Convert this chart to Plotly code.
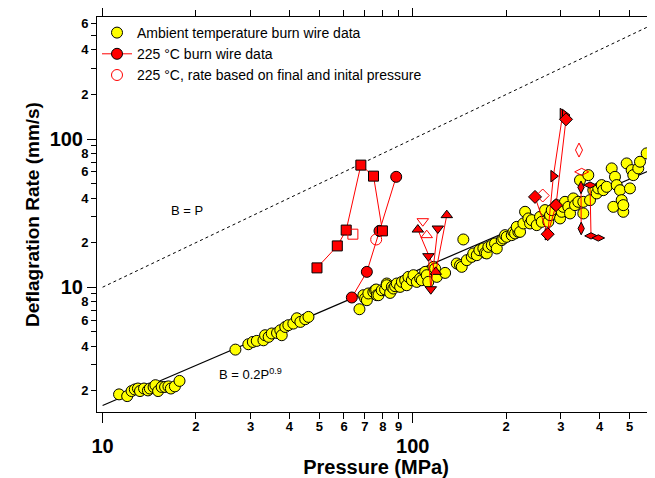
import plotly.graph_objects as go
import math

# ---------------- data ----------------
# Ambient temperature burn wire data (Pressure MPa, Deflagration rate mm/s)
amb_P = [11.3, 12.0, 12.4, 12.7, 13.0, 13.2, 13.6, 14.0, 14.2, 14.6, 14.8, 15.1, 15.5, 15.9, 16.3, 16.6, 17.1, 17.7,
         26.8, 29.5, 30.5, 31.4, 33.0, 33.4, 34.3, 35.1, 36.5, 37.4, 37.8, 38.8, 39.7, 41.2, 42.3, 43.4, 45.0, 46.1,
         67.3, 69.3, 70.2, 71.1, 71.9, 74.6, 75.6, 76.2, 76.6, 77.5, 79.4, 81.4, 82.4, 82.4, 84.5, 85.6, 86.6, 87.7,
         88.8, 91.0, 92.2, 94.5, 95.6, 96.8, 99.3, 100.5, 103.0, 105.6, 106.9, 109.6, 110.9, 112.2, 116.5, 118.0,
         119.5, 127.1,
         138.6, 142.0, 143.8, 145.5, 149.3, 154.9, 156.7, 160.8, 163.9, 168.8, 171.0, 173.1, 175.2, 179.7, 184.1,
         186.5, 193.5, 195.8, 198.3, 200.8, 208.4, 211.0, 213.6, 218.9,
         216.3, 221.7, 227.2, 230.1, 235.8, 238.8, 241.8, 250.9, 257.1, 260.4, 266.8, 273.4, 276.9, 280.4, 291.0,
         298.3, 302.0, 305.6, 309.5, 317.2, 321.3, 329.2, 333.4, 341.6, 345.9, 354.5, 354.5, 367.9, 372.6, 381.8,
         391.6, 396.3, 406.4, 411.2, 421.7, 437.7, 443.0, 448.5, 454.2, 465.4, 471.3, 477.0, 477.0, 489.1, 501.2,
         507.6, 513.7, 533.1, 540.0, 567.5]
amb_B = [1.89, 1.84, 1.99, 2.04, 2.07, 1.99, 2.07, 2.01, 2.07, 2.12, 2.18, 1.99, 2.12, 2.12, 2.14, 2.07, 2.14, 2.33,
         3.79, 4.12, 4.27, 4.34, 4.38, 4.74, 4.62, 4.87, 4.91, 5.12, 4.74, 5.39, 5.54, 5.68, 6.17, 5.83, 6.08, 6.30,
         7.10, 8.83, 8.39, 8.17, 9.07, 9.29, 9.54, 9.65, 8.83, 8.83, 9.54, 9.65, 10.59, 10.31, 9.15, 10.05, 9.80, 10.16,
         10.59, 10.05, 10.86, 11.15, 10.31, 11.74, 11.15, 12.05, 10.86, 11.45, 11.15, 12.69, 12.05, 10.86, 13.72, 13.37,
         11.74, 12.49,
         14.46, 14.08, 13.72, 21.0, 15.22, 16.02, 16.90, 16.45, 17.78, 18.26, 17.06, 16.90, 18.72, 19.22, 19.74,
         18.26, 20.78, 21.33, 22.46, 21.88, 22.46, 23.64, 23.06, 23.64,
         25.55, 23.64, 26.94, 32.28, 29.12, 26.94, 28.36, 26.24, 29.85, 27.63, 33.14, 27.63, 30.65, 33.14, 35.81,
         29.12, 32.28, 34.88, 37.70, 34.88, 31.48, 39.74, 35.81, 37.70, 52.8, 37.70, 31.48, 57.1, 38.70, 45.2,
         42.96, 46.45, 48.9, 45.2, 47.6, 63.4, 34.88, 55.6, 48.9, 45.2, 38.70, 32.28, 35.81, 68.5, 46.45,
         61.7, 57.1, 63.4, 70.3, 80.1]

# 225 C burn wire data, one run per marker shape
sq_P = [49.1, 57.1, 61.0, 68.0, 74.7, 79.8]
sq_B = [13.5, 19.0, 24.3, 66.7, 56.2, 24.0]
ci_P = [63.6, 71.1, 78.1, 88.4]
ci_B = [8.52, 12.69, 24.0, 55.6]
tu_P = [103.8, 118.6, 128.7]
tu_B = [24.5, 12.69, 30.65]
td_P = [112.3, 114.3, 120.4]
td_B = [16.2, 9.69, 24.9]
tr_P = [272.2, 283.9, 304.2, 309.5]
tr_B = [22.8, 56.2, 147.6, 145.2]
di_P = [247.7, 272.2, 289.5, 311.8]
di_B = [40.7, 22.8, 35.8, 135.9]
dt_P = [348.5, 349.0]
dt_B = [47.2, 24.9]
dw_P = [372.6, 375.4, 396.3]
dw_B = [48.9, 22.2, 21.5]

# 225 C, rate based on final and initial pressure (open markers)
op_circle_P = [76.2]
op_circle_B = [21.0]
op_P = [64.1, 110.9, 107.7, 262.3, 343.4, 350.3]
op_B = [22.8, 22.46, 27.9, 41.6, 84.3, 60.1]
op_sym = ["square-open", "triangle-up-open", "triangle-down-open", "diamond-open",
          "diamond-tall-open", "diamond-wide-open"]

# reference lines
line_P = [10, 620]
fit_coef, fit_exp = 0.2, 0.9

x_minor = [20, 30, 40, 50, 60, 70, 80, 90, 200, 300, 400, 500, 600]
x_minor_txt = ["2", "3", "4", "5", "6", "7", "8", "9", "2", "3", "4", "5", "6"]
x_major = [10, 100]
x_major_txt = ["10", "100"]
y_lab = [2, 4, 6, 8, 20, 40, 60, 80, 200, 400, 600]
y_lab_txt = ["2", "4", "6", "8", "2", "4", "6", "8", "2", "4", "6"]
y_unlab = [3, 5, 7, 9, 30, 50, 70, 90, 300, 500]
y_major = [10, 100]
y_major_txt = ["10", "100"]

x_range = [math.log10(9.593), math.log10(603.6)]
y_range = [math.log10(1.437), math.log10(667)]

FONT = "Liberation Sans, Arial, sans-serif"
RED = "#FF0000"
EDGE = "#000000"

fig = go.Figure()

# reference lines
fig.add_trace(go.Scatter(x=line_P, y=line_P, mode="lines",
                         line=dict(color="black", width=1, dash="dot"),
                         showlegend=False, hoverinfo="skip"))
fig.add_trace(go.Scatter(x=line_P, y=[fit_coef * p ** fit_exp for p in line_P], mode="lines",
                         line=dict(color="black", width=1.2),
                         showlegend=False, hoverinfo="skip"))

# ambient
fig.add_trace(go.Scatter(x=amb_P, y=amb_B, mode="markers",
                         name="Ambient temperature burn wire data",
                         marker=dict(symbol="circle", size=11, color="#FFFF00",
                                     line=dict(color="black", width=1))))


def run(P, B, sym, size=10, name=None, legend=False):
    fig.add_trace(go.Scatter(x=P, y=B, mode="lines+markers", name=name, showlegend=legend,
                             line=dict(color=RED, width=1),
                             marker=dict(symbol=sym, size=size, color=RED,
                                         line=dict(color=EDGE, width=1))))


run(ci_P, ci_B, "circle", 11, name="225 °C burn wire data", legend=True)
run(sq_P, sq_B, "square", 10)
run(tu_P, tu_B, "triangle-up", 10)
run(td_P, td_B, "triangle-down", 10)
run(tr_P, tr_B, "triangle-right", 10)
run(di_P, di_B, "diamond", 10)
run(dt_P, dt_B, "diamond-tall", 9)
run(dw_P, dw_B, "diamond-wide", 9)

fig.add_trace(go.Scatter(x=op_circle_P, y=op_circle_B, mode="markers",
                         name="225 °C, rate based on final and inital pressure",
                         marker=dict(symbol="circle-open", size=11, color=RED,
                                     line=dict(color=RED, width=1))))
fig.add_trace(go.Scatter(x=op_P, y=op_B, mode="markers", showlegend=False,
                         marker=dict(symbol=op_sym, size=10, color=RED,
                                     line=dict(color=RED, width=1))))

# dummy trace so the overlay axes (major decade ticks) are drawn
fig.add_trace(go.Scatter(x=[10], y=[10], xaxis="x2", yaxis="y2", mode="markers",
                         marker=dict(opacity=0), showlegend=False, hoverinfo="skip"))

fig.add_annotation(x=math.log10(18.7), y=math.log10(33.1), text="B = P", showarrow=False,
                   font=dict(family=FONT, size=13, color="black"))
fig.add_annotation(x=math.log10(29.9), y=math.log10(2.58), text="B = 0.2P<sup>0.9</sup>", showarrow=False,
                   font=dict(family=FONT, size=13, color="black"))

axis_common = dict(type="log", showgrid=False, zeroline=False, showline=True, automargin=False,
                   linecolor="black", linewidth=1, ticks="outside", tickcolor="black",
                   tickwidth=1, tickmode="array")

fig.update_layout(
    width=647, height=470,
    margin=dict(l=89, r=0, t=9, b=66, autoexpand=False),
    paper_bgcolor="white", plot_bgcolor="white",
    font=dict(family=FONT, color="black"),
    showlegend=True,
    legend=dict(x=0.0, y=1.0, xanchor="left", yanchor="top", bgcolor="rgba(0,0,0,0)",
                font=dict(family=FONT, size=14, color="black"), itemwidth=30),
    xaxis=dict(axis_common, range=x_range, tickvals=x_minor, ticktext=x_minor_txt,
               ticks="", mirror="ticks", ticklabeloverflow="allow",
               minor=dict(tickvals=x_minor, ticklen=6, ticks="outside", tickcolor="black", tickwidth=1),
               tickfont=dict(family=FONT, size=13, weight="bold"), ticklabelstandoff=2,
               title=dict(text="Pressure (MPa)", font=dict(family=FONT, size=20, weight="bold"),
                          standoff=33)),
    xaxis2=dict(axis_common, range=x_range, overlaying="x", side="bottom", anchor="y",
                tickvals=x_major, ticktext=x_major_txt, ticklen=10, mirror="ticks",
                tickfont=dict(family=FONT, size=20, weight="bold"), ticklabelstandoff=6),
    yaxis=dict(axis_common, range=y_range, tickvals=y_lab, ticktext=y_lab_txt,
               ticklen=5, tickfont=dict(family=FONT, size=13, weight="bold"), ticklabelstandoff=0,
               minor=dict(tickvals=y_unlab, ticklen=5, ticks="outside", tickcolor="black", tickwidth=1),
               title=dict(text="Deflagration Rate (mm/s)",
                          font=dict(family=FONT, size=19, weight="bold"), standoff=36)),
    yaxis2=dict(axis_common, range=y_range, overlaying="y", side="left", anchor="x",
                tickvals=y_major, ticktext=y_major_txt, ticklen=9,
                tickfont=dict(family=FONT, size=20, weight="bold"), ticklabelstandoff=0),
)

fig.write_html("out.html")
